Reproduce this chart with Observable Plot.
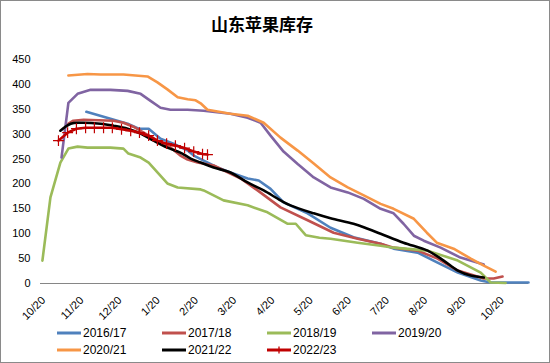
<!DOCTYPE html>
<html><head><meta charset="utf-8">
<script src="https://cdn.jsdelivr.net/npm/d3@7"></script>
<script src="https://cdn.jsdelivr.net/npm/@observablehq/plot@0.6"></script>
<style>
body{margin:0;background:#fff}
#frame{position:relative;width:550px;height:363px;overflow:hidden;background:#fff;font-family:"Liberation Sans",Arial,sans-serif;color:#000}
#border{position:absolute;left:0;top:0;width:550px;height:363px;box-sizing:border-box;border:1px solid #8a8a8a;pointer-events:none}
#title{position:absolute;left:150px;width:224px;top:11px;height:26px;line-height:26px;text-align:center;font-family:"Noto Sans CJK SC",sans-serif;font-weight:bold;font-size:17px;letter-spacing:0px}
#chart{position:absolute;left:0;top:0}
#legend{position:absolute;left:57px;top:324px;display:grid;grid-template-columns:105px 105px 105px 105px;grid-auto-rows:17px;font-size:12px}
.item{display:flex;align-items:center;white-space:nowrap}
.item svg{margin-right:2px}
</style></head>
<body>
<div id="frame">
  <div id="chart"></div>
  <div id="title">山东苹果库存</div>
  <div id="legend"></div>
  <div id="border"></div>
</div>
<script>
// x = months after 10/20, y = stock
const monthLabels = ["10/20","11/20","12/20","1/20","2/20","3/20","4/20","5/20","6/20","7/20","8/20","9/20","10/20"];
const seriesNames = ["2016/17","2017/18","2018/19","2019/20","2020/21","2021/22","2022/23"];
const seriesColors = ["#4F81BD","#C0504D","#9BBB59","#8064A2","#F79646","#000000","#C00000"];

const s2016 = [[1.20,345],[1.83,331],[2.28,321],[2.57,311],[2.83,311],[3.14,291],[3.48,281],[3.85,267],[4.01,257],[4.27,247],[4.63,233],[4.97,223],[5.42,211],[5.71,207],[6.02,190],[6.36,163],[6.99,141],[7.59,112],[8.19,93],[8.90,80],[9.24,70],[9.87,62],[10.39,42],[10.92,22],[11.52,6],[11.78,2],[12.77,2]];
const s2017 = [[0.73,321],[0.86,327],[1.13,329],[1.91,327],[2.17,323],[2.43,315],[2.70,303],[3.06,287],[3.40,273],[3.66,257],[3.85,249],[4.11,243],[4.53,237],[5.24,211],[5.68,187],[6.28,153],[6.99,127],[7.67,102],[8.30,90],[8.90,80],[9.24,72],[9.87,66],[10.39,50],[10.92,26],[11.60,10],[11.86,10],[12.09,14]];
const s2018 = [[0.05,46],[0.26,173],[0.52,243],[0.73,271],[0.97,275],[1.23,273],[1.83,273],[2.17,271],[2.30,261],[2.62,253],[2.83,243],[3.32,201],[3.59,193],[4.19,189],[4.27,187],[4.79,167],[5.42,157],[5.94,143],[6.47,120],[6.68,120],[6.94,97],[7.30,92],[7.59,90],[8.30,82],[8.90,76],[9.24,72],[10.13,66],[10.92,46],[11.52,22],[11.78,2],[12.17,1]];
const s2019 = [[0.55,253],[0.73,363],[0.97,381],[1.31,389],[1.83,389],[2.28,387],[2.62,381],[2.88,367],[3.14,353],[3.40,349],[3.85,349],[4.27,347],[4.97,341],[5.42,333],[5.76,323],[6.02,297],[6.36,265],[6.73,240],[7.15,213],[7.59,193],[8.04,183],[8.46,170],[8.90,150],[9.24,141],[9.50,120],[9.77,96],[10.03,86],[10.47,72],[10.99,52],[11.60,38]];
const s2020 = [[0.73,418],[1.23,421],[1.57,420],[2.17,420],[2.80,416],[3.06,404],[3.32,390],[3.59,374],[3.85,370],[4.06,368],[4.19,362],[4.37,349],[4.97,341],[5.42,337],[5.84,323],[6.28,293],[6.73,267],[7.15,241],[7.59,213],[8.04,193],[8.46,177],[8.90,160],[9.24,150],[9.77,130],[10.11,102],[10.37,82],[10.81,70],[11.26,50],[11.60,36],[11.91,24]];
const s2021 = [[0.52,307],[0.79,321],[1.05,323],[1.57,321],[1.91,317],[2.28,311],[2.62,301],[2.96,287],[3.32,273],[3.66,263],[3.93,251],[4.19,243],[4.53,233],[4.97,223],[5.42,203],[5.84,187],[6.28,167],[6.54,157],[7.15,141],[7.59,131],[8.19,120],[8.56,110],[8.90,100],[9.50,82],[10.13,66],[10.55,46],[10.92,26],[11.26,16],[11.60,12]];
const s2022 = [[0.47,287],[0.71,303],[0.94,311],[1.18,313],[1.41,313],[1.65,313],[1.88,313],[2.12,310],[2.36,307],[2.59,303],[2.83,297],[3.06,287],[3.30,281],[3.53,277],[3.77,272],[4.01,265],[4.24,260],[4.37,259]];

const allSeries = [s2016,s2017,s2018,s2019,s2020,s2021,s2022];
const rows = allSeries.flatMap((s,i)=>s.map(([m,v])=>({m,v,name:seriesNames[i]})));

const lineMarks = seriesNames.map((n,i)=>Plot.line(rows.filter(d=>d.name===n),{
  x:"m", y:"v", stroke:seriesColors[i], strokeWidth:2.6,
  curve: n==="2021/22" ? "catmull-rom" : "linear", strokeLinejoin:"round"
}));

const chart = Plot.plot({
  width:550, height:325,
  marginTop:59, marginBottom:42, marginLeft:40, marginRight:22,
  style:{fontSize:"11px", fontFamily:"'Liberation Sans', Arial, sans-serif", color:"#000", background:"transparent"},
  x:{type:"linear", domain:[0,12.77], label:null},
  y:{domain:[0,450], label:null},
  marks:[
    Plot.axisX({ticks:d3.range(monthLabels.length), tickFormat:i=>monthLabels[i], tickSize:0, tickRotate:-45, tickPadding:6, dx:3, dy:9, label:null}),
    Plot.axisY({ticks:d3.range(0,451,50), tickSize:0, tickPadding:10, label:null}),
    Plot.ruleY([0],{stroke:"#868686", strokeWidth:1}),
    ...lineMarks,
    Plot.dot(rows.filter(d=>d.name==="2022/23"),{x:"m", y:"v", symbol:"plus", r:3.6, stroke:"#C00000", strokeWidth:1.2})
  ]
});
document.getElementById("chart").appendChild(chart);

const legend = document.getElementById("legend");
seriesNames.forEach((n,i)=>{
  const it = document.createElement("div");
  it.className = "item";
  const marker = n==="2022/23" ? `<line x1="12" x2="12" y1="1.5" y2="8.5" stroke="${seriesColors[i]}" stroke-width="1.3"/>` : "";
  it.innerHTML = `<svg width="24" height="10"><line x1="0" x2="24" y1="5" y2="5" stroke="${seriesColors[i]}" stroke-width="3"/>${marker}</svg><span>${n}</span>`;
  legend.appendChild(it);
});
</script>
</body></html>
